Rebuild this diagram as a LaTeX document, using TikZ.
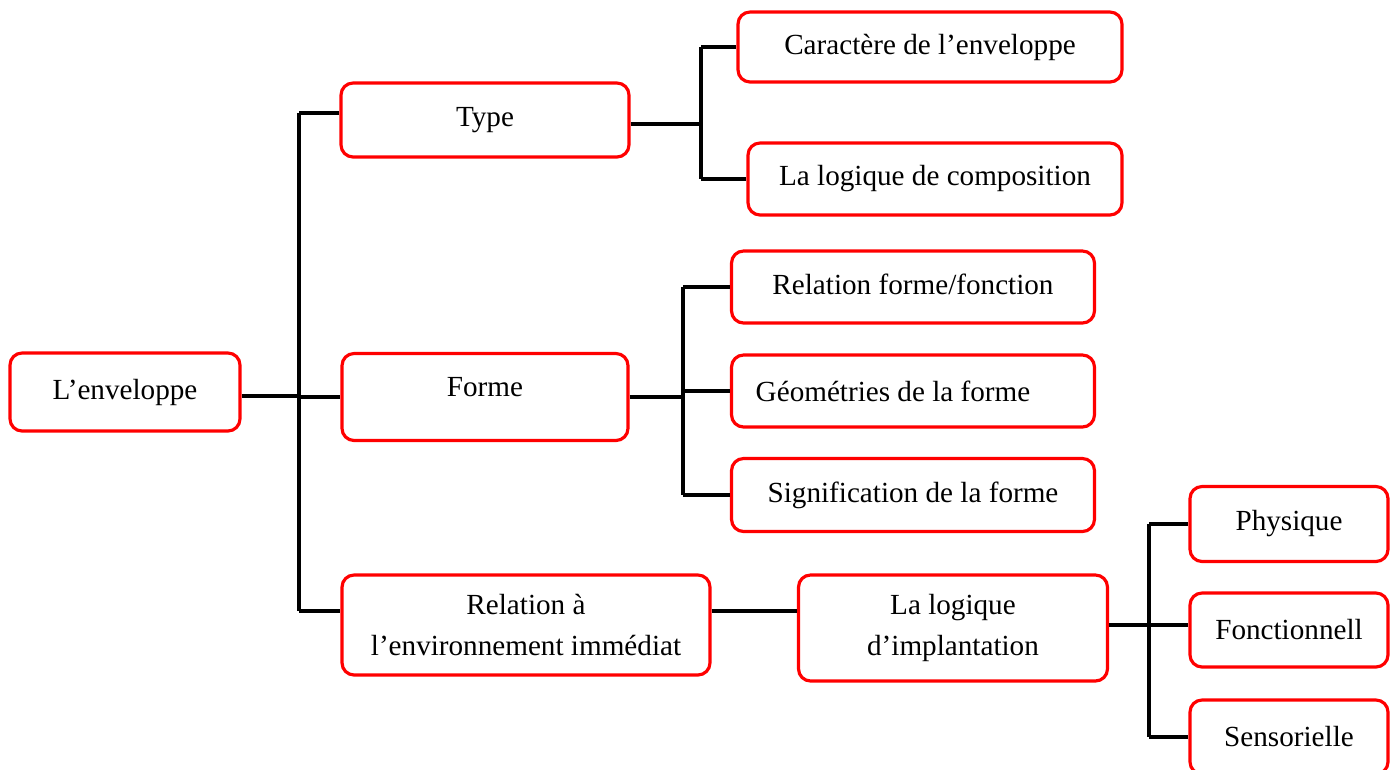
\documentclass[tikz,border=0pt]{standalone}
\usepackage{fontspec}
\setmainfont{Liberation Serif}
\begin{document}
\begin{tikzpicture}[x=0.02cm, y=-0.02cm,
  box/.style={draw=red, line width=1.8pt, rounded corners=0.24cm, align=center,
    inner sep=0pt, font=\fontsize{16.6}{22.8}\selectfont},
  link/.style={line width=2pt}]
  \useasboundingbox (0,0) rectangle (1397,769);

  % first level
  \node[box, minimum width=4.6cm, minimum height=1.56cm] (env) at (125,392) {\raisebox{0.12cm}{L’enveloppe}};
  \node[box, minimum width=5.76cm, minimum height=1.48cm] (type) at (485,120) {Type};
  \node[box, minimum width=5.72cm, minimum height=1.74cm] (forme) at (485,397) {\raisebox{0.4cm}{Forme}};
  \node[box, minimum width=7.36cm, minimum height=2cm] (relenv) at (526,625) {Relation à\\l’environnement immédiat};

  % second level
  \node[box, minimum width=7.68cm, minimum height=1.4cm] (carac) at (930,47) {Caractère de l’enveloppe};
  \node[box, minimum width=7.48cm, minimum height=1.44cm] (compo) at (935,179) {La logique de composition};
  \node[box, minimum width=7.26cm, minimum height=1.44cm] (relff) at (913,287) {\raisebox{0.12cm}{Relation forme/fonction}};
  \node[box, minimum width=7.26cm, minimum height=1.44cm] (geom) at (913,391) {Géométries de la forme\hspace{0.8cm}};
  \node[box, minimum width=7.26cm, minimum height=1.46cm] (signif) at (913,495) {Signification de la forme};
  \node[box, minimum width=6.18cm, minimum height=2.12cm] (implant) at (953,628) {La logique\\d’implantation};

  % third level
  \node[box, minimum width=3.96cm, minimum height=1.5cm] (phys) at (1289,524) {Physique};
  \node[box, minimum width=3.96cm, minimum height=1.48cm] (fonct) at (1289,630) {Fonctionnell};
  \node[box, minimum width=3.96cm, minimum height=1.48cm] (sens) at (1289,737) {Sensorielle};

  % joints
  \coordinate (t1) at (299,0);
  \coordinate (t2) at (701,0);
  \coordinate (t3) at (683,0);
  \coordinate (t4) at (1149,0);
  \coordinate (envout) at ([yshift=-0.08cm]env.east);
  \coordinate (typein) at ([yshift=0.14cm]type.west);
  \coordinate (typeout) at ([yshift=-0.08cm]type.east);
  \coordinate (relin) at ([yshift=0.28cm]relenv.west);
  \coordinate (relout) at ([yshift=0.28cm]relenv.east);
  \coordinate (implout) at ([yshift=0.06cm]implant.east);
  \coordinate (fonctin) at ([yshift=0.1cm]fonct.west);

  \draw[link] (envout) -- (envout -| t1);
  \draw[link] (t1 |- typein) -- (t1 |- relin);
  \foreach \n in {typein,forme.west,relin}
    \draw[link] (t1 |- \n) -- (\n);

  \draw[link] (typeout) -- (typeout -| t2);
  \draw[link] (t2 |- carac.west) -- (t2 |- compo.west);
  \foreach \n in {carac,compo}
    \draw[link] (t2 |- \n.west) -- (\n.west);

  \draw[link] (forme.east) -- (forme.east -| t3);
  \draw[link] (t3 |- relff.west) -- (t3 |- signif.west);
  \foreach \n in {relff,geom,signif}
    \draw[link] (t3 |- \n.west) -- (\n.west);

  \draw[link] (relout) -- (relout -| implant.west);

  \draw[link] (implout) -- (implout -| t4);
  \draw[link] (t4 |- phys.west) -- (t4 |- sens.west);
  \foreach \n in {phys.west,fonctin,sens.west}
    \draw[link] (t4 |- \n) -- (\n);
\end{tikzpicture}
\end{document}
